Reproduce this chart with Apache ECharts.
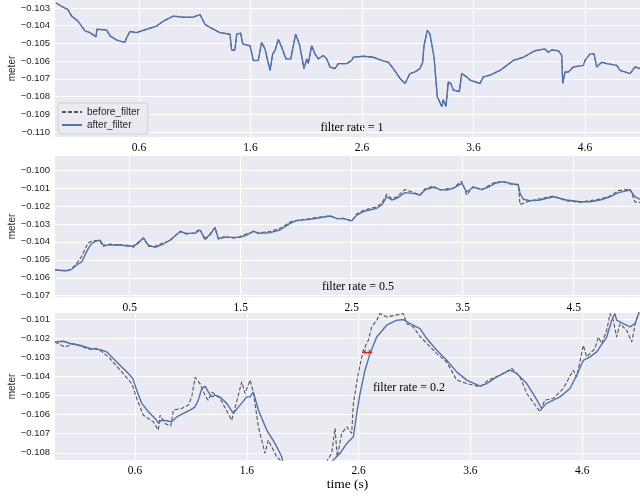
<!DOCTYPE html>
<html><head><meta charset="utf-8">
<script src="https://cdn.jsdelivr.net/npm/echarts@6/dist/echarts.min.js"></script>
<style>html,body{margin:0;padding:0;background:#fff}#c{width:640px;height:497px}</style>
</head><body><div id="c"></div><script>
// ---------- data ----------
const p1Time = [-0.144,-0.093,-0.037,-0.004,0.053,0.116,0.161,0.214,0.223,0.310,0.340,0.400,0.474,0.490,0.519,0.579,0.669,0.759,0.818,0.908,0.997,1.087,1.147,1.192,1.266,1.326,1.416,1.431,1.461,1.476,1.512,1.530,1.596,1.625,1.670,1.700,1.730,1.775,1.799,1.820,1.849,1.880,1.918,1.961,2.005,2.038,2.080,2.104,2.118,2.149,2.178,2.208,2.253,2.283,2.313,2.358,2.387,2.463,2.508,2.522,2.612,2.701,2.777,2.836,2.881,2.941,2.986,3.030,3.075,3.120,3.144,3.156,3.186,3.210,3.246,3.275,3.315,3.329,3.353,3.374,3.396,3.419,3.473,3.494,3.539,3.569,3.658,3.688,3.748,3.838,3.957,4.047,4.152,4.241,4.271,4.301,4.361,4.391,4.400,4.421,4.450,4.495,4.585,4.600,4.645,4.681,4.705,4.750,4.795,4.884,4.914,5.004,5.048,5.093];
const p1Value = [-0.10272,-0.10291,-0.10309,-0.10346,-0.10374,-0.10429,-0.10439,-0.10463,-0.10420,-0.10424,-0.10457,-0.10481,-0.10494,-0.10467,-0.10433,-0.10439,-0.10420,-0.10402,-0.10374,-0.10346,-0.10352,-0.10352,-0.10337,-0.10392,-0.10420,-0.10439,-0.10448,-0.10537,-0.10537,-0.10448,-0.10442,-0.10503,-0.10513,-0.10596,-0.10596,-0.10494,-0.10531,-0.10652,-0.10559,-0.10541,-0.10476,-0.10522,-0.10587,-0.10587,-0.10448,-0.10503,-0.10642,-0.10587,-0.10614,-0.10513,-0.10559,-0.10587,-0.10568,-0.10587,-0.10633,-0.10642,-0.10614,-0.10614,-0.10596,-0.10578,-0.10572,-0.10578,-0.10596,-0.10606,-0.10642,-0.10698,-0.10726,-0.10670,-0.10661,-0.10642,-0.10606,-0.10513,-0.10426,-0.10448,-0.10578,-0.10800,-0.10856,-0.10818,-0.10856,-0.10717,-0.10726,-0.10763,-0.10772,-0.10670,-0.10689,-0.10707,-0.10726,-0.10689,-0.10679,-0.10652,-0.10596,-0.10578,-0.10541,-0.10531,-0.10550,-0.10537,-0.10541,-0.10568,-0.10726,-0.10661,-0.10661,-0.10633,-0.10624,-0.10596,-0.10559,-0.10559,-0.10633,-0.10606,-0.10614,-0.10624,-0.10652,-0.10670,-0.10633,-0.10642];

const p2Time = [-0.173,-0.068,-0.023,0.023,0.068,0.097,0.127,0.158,0.203,0.232,0.262,0.323,0.413,0.473,0.532,0.577,0.623,0.668,0.728,0.803,0.863,0.953,1.014,1.088,1.133,1.178,1.223,1.268,1.298,1.359,1.433,1.494,1.554,1.614,1.659,1.764,1.854,1.944,2.005,2.124,2.214,2.305,2.365,2.424,2.500,2.545,2.605,2.725,2.770,2.815,2.860,2.905,2.980,3.055,3.115,3.160,3.235,3.295,3.356,3.415,3.491,3.536,3.595,3.671,3.731,3.791,3.866,3.926,4.001,4.016,4.046,4.106,4.196,4.316,4.437,4.557,4.647,4.737,4.827,4.902,5.007,5.052,5.097];
const p2After = [-0.10557,-0.10561,-0.10553,-0.10529,-0.10511,-0.10474,-0.10436,-0.10408,-0.10394,-0.10390,-0.10418,-0.10418,-0.10416,-0.10423,-0.10423,-0.10408,-0.10377,-0.10418,-0.10431,-0.10412,-0.10390,-0.10344,-0.10353,-0.10353,-0.10334,-0.10381,-0.10362,-0.10319,-0.10381,-0.10375,-0.10375,-0.10375,-0.10362,-0.10340,-0.10353,-0.10349,-0.10334,-0.10297,-0.10282,-0.10275,-0.10266,-0.10256,-0.10269,-0.10271,-0.10282,-0.10251,-0.10232,-0.10213,-0.10195,-0.10149,-0.10167,-0.10158,-0.10126,-0.10130,-0.10139,-0.10111,-0.10096,-0.10108,-0.10111,-0.10102,-0.10074,-0.10121,-0.10096,-0.10108,-0.10096,-0.10074,-0.10065,-0.10074,-0.10084,-0.10130,-0.10163,-0.10171,-0.10167,-0.10149,-0.10167,-0.10177,-0.10177,-0.10167,-0.10149,-0.10126,-0.10111,-0.10149,-0.10163];
const p2Before = [-0.10557,-0.10561,-0.10550,-0.10520,-0.10480,-0.10440,-0.10405,-0.10396,-0.10392,-0.10398,-0.10426,-0.10412,-0.10420,-0.10418,-0.10430,-0.10402,-0.10380,-0.10425,-0.10425,-0.10405,-0.10395,-0.10340,-0.10358,-0.10348,-0.10330,-0.10392,-0.10355,-0.10322,-0.10385,-0.10368,-0.10380,-0.10370,-0.10355,-0.10345,-0.10350,-0.10342,-0.10325,-0.10290,-0.10280,-0.10270,-0.10262,-0.10255,-0.10272,-0.10268,-0.10285,-0.10245,-0.10225,-0.10205,-0.10185,-0.10135,-0.10160,-0.10150,-0.10108,-0.10125,-0.10140,-0.10105,-0.10090,-0.10112,-0.10105,-0.10100,-0.10062,-0.10140,-0.10092,-0.10112,-0.10088,-0.10068,-0.10065,-0.10078,-0.10080,-0.10192,-0.10185,-0.10172,-0.10160,-0.10145,-0.10172,-0.10180,-0.10170,-0.10162,-0.10145,-0.10115,-0.10105,-0.10178,-0.10180];

const p3AfterTime = [-0.116,-0.041,0.019,0.108,0.198,0.287,0.347,0.406,0.481,0.540,0.579,0.615,0.660,0.719,0.779,0.808,0.839,0.884,0.928,0.973,1.032,1.092,1.137,1.166,1.197,1.226,1.256,1.286,1.316,1.360,1.420,1.479,1.539,1.599,1.629,1.658,1.703,1.778,1.852,1.912,1.926,2.000,2.100,2.200,2.300,2.374,2.434,2.494,2.553,2.583,2.613,2.657,2.702,2.762,2.851,2.941,3.000,3.060,3.149,3.209,3.299,3.388,3.477,3.567,3.686,3.746,3.835,3.954,4.014,4.104,4.178,4.238,4.282,4.401,4.491,4.551,4.610,4.670,4.730,4.819,4.864,4.893,4.908,4.968,5.028,5.072,5.117];
const p3After = [-0.10219,-0.10215,-0.10227,-0.10236,-0.10253,-0.10259,-0.10271,-0.10306,-0.10350,-0.10384,-0.10410,-0.10472,-0.10541,-0.10585,-0.10620,-0.10643,-0.10629,-0.10632,-0.10638,-0.10612,-0.10594,-0.10576,-0.10559,-0.10524,-0.10463,-0.10451,-0.10481,-0.10507,-0.10498,-0.10507,-0.10541,-0.10594,-0.10550,-0.10507,-0.10507,-0.10481,-0.10576,-0.10681,-0.10751,-0.10821,-0.10854,-0.1092,-0.1096,-0.1093,-0.1088,-0.10838,-0.10803,-0.10751,-0.10716,-0.10594,-0.10489,-0.10367,-0.10280,-0.10193,-0.10131,-0.10105,-0.10102,-0.10123,-0.10149,-0.10201,-0.10262,-0.10315,-0.10376,-0.10419,-0.10451,-0.10437,-0.10402,-0.10367,-0.10384,-0.10437,-0.10507,-0.10568,-0.10541,-0.10507,-0.10463,-0.10393,-0.10315,-0.10297,-0.10271,-0.10193,-0.10105,-0.10070,-0.10105,-0.10123,-0.10140,-0.10123,-0.10053];
const p3BeforeTime = [-0.116,-0.026,0.05,0.108,0.2,0.25,0.3,0.376,0.481,0.570,0.615,0.674,0.764,0.808,0.824,0.868,0.919,0.943,1.018,1.077,1.107,1.137,1.181,1.226,1.253,1.289,1.360,1.465,1.524,1.554,1.584,1.629,1.658,1.703,1.763,1.792,1.867,1.897,2.0,2.2,2.359,2.389,2.409,2.449,2.494,2.538,2.553,2.597,2.642,2.687,2.717,2.762,2.791,2.851,3.000,3.030,3.089,3.149,3.299,3.388,3.477,3.567,3.686,3.760,3.865,3.969,4.044,4.104,4.223,4.267,4.342,4.431,4.520,4.551,4.610,4.640,4.714,4.744,4.774,4.819,4.849,4.878,4.908,4.938,4.998,5.043,5.072,5.102,5.117];
const p3Before = [-0.10219,-0.10245,-0.10228,-0.10240,-0.10258,-0.10252,-0.10268,-0.10306,-0.10376,-0.10437,-0.10515,-0.10603,-0.10638,-0.10681,-0.10603,-0.10646,-0.10660,-0.10576,-0.10568,-0.10550,-0.10507,-0.10405,-0.10437,-0.10498,-0.10524,-0.10482,-0.10515,-0.10629,-0.10498,-0.10428,-0.10489,-0.10419,-0.10481,-0.10664,-0.10803,-0.10734,-0.10821,-0.10838,-0.1095,-0.1095,-0.10803,-0.10672,-0.10821,-0.10698,-0.10664,-0.10698,-0.10541,-0.10384,-0.10262,-0.10210,-0.10140,-0.10105,-0.10070,-0.10088,-0.10070,-0.10123,-0.10140,-0.10190,-0.10280,-0.10324,-0.10419,-0.10437,-0.10454,-0.10419,-0.10393,-0.10358,-0.10402,-0.10489,-0.10585,-0.10524,-0.10515,-0.10463,-0.10367,-0.10402,-0.10236,-0.10297,-0.10253,-0.10193,-0.10227,-0.10158,-0.10070,-0.10105,-0.10193,-0.10123,-0.10158,-0.10219,-0.10131,-0.10070,-0.10000];

const xTicks1 = [0.6,1.6,2.6,3.6,4.6];
const xTicks2 = [0.5,1.5,2.5,3.5,4.5];
const xTicks3 = [0.6,1.6,2.6,3.6,4.6];
const yTicks1 = [-0.110,-0.109,-0.108,-0.107,-0.106,-0.105,-0.104,-0.103];
const yTicks2 = [-0.107,-0.106,-0.105,-0.104,-0.103,-0.102,-0.101,-0.100];
const yTicks3 = [-0.108,-0.107,-0.106,-0.105,-0.104,-0.103,-0.102,-0.101];
const xRange1 = [-0.153, 5.093], xRange2 = [-0.173, 5.097], xRange3 = [-0.116, 5.117];
const yRange1 = [-0.11028, -0.10255], yRange2 = [-0.10707, -0.09922], yRange3 = [-0.10838, -0.10067];
const panelTexts = ['filter rate = 1', 'filter rate = 0.5', 'filter rate = 0.2'];
const seriesNames = ['before_filter', 'after_filter'];
const arrowSpan = [2.633, 2.722], arrowLevel = -0.10271;

// ---------- chart ----------
const zip = (t, v) => t.map((x, i) => [x, v[i]]);
const SANS = 'Liberation Sans, Arial, sans-serif';
const SERIF = 'Liberation Serif, Times New Roman, serif';
const BG = '#EAEAF2', BLUE = '#4C72B0', GRAY = '#555555';
const fmtY = v => (v < 0 ? '\u2212' : '') + Math.abs(v).toFixed(3);

const grids = [
  {left: 55, top: 0, width: 585, height: 137},
  {left: 55, top: 156, width: 585, height: 141},
  {left: 55, top: 313, width: 585, height: 147}
].map(g => Object.assign(g, {show: true, backgroundColor: BG, borderWidth: 0, containLabel: false, outerBoundsMode: 'none'}));

function xAxis(i, ticks, range, extra) {
  return Object.assign({
    type: 'value', gridIndex: i, min: range[0], max: range[1],
    axisLine: {show: false},
    axisTick: {show: false, customValues: ticks},
    axisLabel: {customValues: ticks, formatter: v => v.toFixed(1), color: '#000', fontFamily: SERIF, fontSize: 11.5, margin: 5},
    splitLine: {show: true, lineStyle: {color: '#fff', width: 1}}
  }, extra || {});
}
function yAxis(i, ticks, range) {
  return {
    type: 'value', gridIndex: i, min: range[0], max: range[1],
    name: 'meter', nameLocation: 'middle', nameGap: 38, nameMoveOverlap: false,
    nameTextStyle: {fontFamily: SANS, fontSize: 10, color: '#262626'},
    axisLine: {show: false},
    axisTick: {show: false, customValues: ticks},
    axisLabel: {customValues: ticks, formatter: fmtY, color: '#262626', fontFamily: SANS, fontSize: 9.5, margin: 5},
    splitLine: {show: true, lineStyle: {color: '#fff', width: 1}}
  };
}
function lineSeries(name, i, data, dashed, extra) {
  return Object.assign({
    name, type: 'line', xAxisIndex: i, yAxisIndex: i, data,
    showSymbol: false, symbol: 'none', animation: false, clip: true,
    lineStyle: dashed ? {color: GRAY, width: 1.1, type: [4, 2]} : {color: BLUE, width: 1.4},
    itemStyle: {color: dashed ? GRAY : BLUE}
  }, extra || {});
}

const option = {
  animation: false,
  backgroundColor: '#fff',
  grid: grids,
  xAxis: [
    xAxis(0, xTicks1, xRange1),
    xAxis(1, xTicks2, xRange2),
    xAxis(2, xTicks3, xRange3, {name: 'time (s)', nameLocation: 'middle', nameGap: 17, nameMoveOverlap: false,
      nameTextStyle: {fontFamily: SERIF, fontSize: 13.5, color: '#000'}})
  ],
  yAxis: [yAxis(0, yTicks1, yRange1), yAxis(1, yTicks2, yRange2), yAxis(2, yTicks3, yRange3)],
  legend: {
    data: seriesNames, orient: 'vertical', left: 58, top: 103,
    padding: [4, 8, 4, 3], itemGap: 3, itemWidth: 20, itemHeight: 10,
    itemStyle: {color: 'rgba(0,0,0,0)', borderWidth: 0, opacity: 0},
    backgroundColor: 'rgba(234,234,242,0.85)', borderColor: '#cfcfd6', borderWidth: 1, borderRadius: 3,
    textStyle: {fontFamily: SANS, fontSize: 10, color: '#262626'}
  },
  series: [
    lineSeries(seriesNames[0], 0, zip(p1Time, p1Value), true),
    lineSeries(seriesNames[1], 0, zip(p1Time, p1Value), false),
    lineSeries(seriesNames[0], 1, zip(p2Time, p2Before), true),
    lineSeries(seriesNames[1], 1, zip(p2Time, p2After), false),
    lineSeries(seriesNames[0], 2, zip(p3BeforeTime, p3Before), true),
    lineSeries(seriesNames[1], 2, zip(p3AfterTime, p3After), false, {
      markLine: {
        silent: true, symbol: ['arrow', 'arrow'], symbolSize: [4, 4], animation: false,
        label: {show: false},
        lineStyle: {color: '#e8251f', width: 1.3, type: 'solid'},
        data: [[{coord: [arrowSpan[0], arrowLevel]}, {coord: [arrowSpan[1], arrowLevel]}]]
      }
    })
  ],
  graphic: [
    {type: 'text', x: 352, y: 128, style: {text: panelTexts[0], fill: '#000', font: '12px ' + SERIF, textAlign: 'center', textVerticalAlign: 'middle'}},
    {type: 'text', x: 358, y: 287, style: {text: panelTexts[1], fill: '#000', font: '12px ' + SERIF, textAlign: 'center', textVerticalAlign: 'middle'}},
    {type: 'text', x: 409, y: 388, style: {text: panelTexts[2], fill: '#000', font: '12px ' + SERIF, textAlign: 'center', textVerticalAlign: 'middle'}}
  ]
};
const chart = echarts.init(document.getElementById('c'), null, {renderer: 'canvas'});
chart.setOption(option);
</script></body></html>
